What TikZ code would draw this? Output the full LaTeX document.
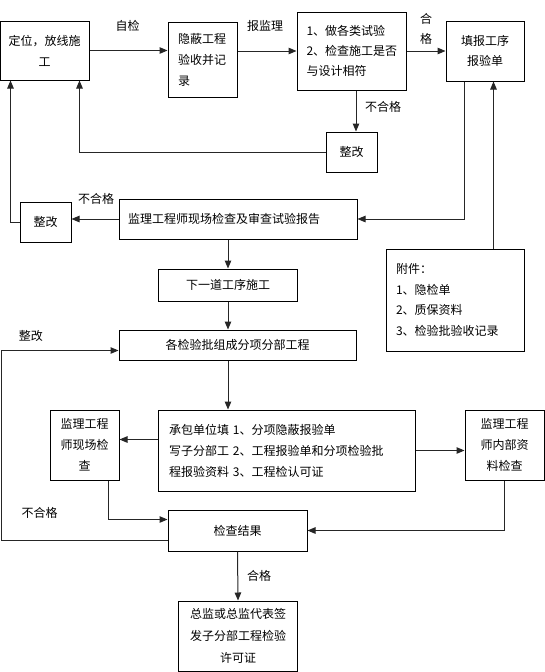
\documentclass[tikz,border=0pt]{standalone}
\usepackage{fontspec}
\newfontfamily\cjk{Noto Sans CJK SC}
\usetikzlibrary{arrows.meta,calc}
\tikzset{
  every node/.style={font=\cjk\fontsize{12}{21}\selectfont},
  box/.style={draw=black, line width=1pt, inner sep=0pt, align=center},
  conn/.style={draw=black!85, line width=1pt, -{Triangle[length=8pt,width=6.5pt]}},
  plain/.style={draw=black!85, line width=1pt},
  lbl/.style={inner sep=0pt, align=center}
}
\begin{document}
\begin{tikzpicture}[x=1pt,y=-1pt]
\useasboundingbox (0,0) rectangle (545,672);
% boxes
\node[box, minimum width=88.5, minimum height=59] (A) at (44.75,50.5) {定位，放线施\\工};
\node[box, minimum width=69, minimum height=75, text width=49, align=left] (B) at (202.5,59.5) {隐蔽工程\\验收并记\\录};
\node[box, minimum width=109, minimum height=78, text width=90, align=left, font=\cjk\fontsize{12}{20}\selectfont] (C) at (351.5,51) {1、做各类试验\\2、检查施工是否\\与设计相符};
\node[box, minimum width=78, minimum height=60, font=\cjk\fontsize{12}{20}\selectfont] (D) at (485,51) {填报工序\\报验单};
\node[box, minimum width=51, minimum height=40] (E) at (351.5,152) {整改};
\node[box, minimum width=238, minimum height=40, text width=220, align=left] (F) at (238,219) {监理工程师现场检查及审查试验报告};
\node[box, minimum width=51, minimum height=40] (G) at (45.5,222) {整改};
\node[box, minimum width=138, minimum height=102, text width=118, align=left, font=\cjk\fontsize{12}{20.5}\selectfont] (H) at (455,300) {附件：\\1、隐检单\\2、质保资料\\3、检验批验收记录};
\node[box, minimum width=139, minimum height=32] (I) at (228,285) {下一道工序施工};
\node[box, minimum width=237, minimum height=30] (J) at (237.5,345) {各检验批组成分项分部工程};
\node[box, minimum width=256.5, minimum height=81, text width=235.5, align=left] (K) at (286.75,450.5) {承包单位填 1、分项隐蔽报验单\\写子分部工 2、工程报验单和分项检验批\\程报验资料 3、工程检认可证};
\node[box, minimum width=69, minimum height=70] (L) at (84.5,445) {监理工程\\师现场检\\查};
\node[box, minimum width=79, minimum height=70] (M) at (504.5,445) {监理工程\\师内部资\\料检查};
\node[box, minimum width=139, minimum height=41] (N) at (237.5,530.5) {检查结果};
\node[box, minimum width=119, minimum height=70, font=\cjk\fontsize{12}{22}\selectfont] (O) at (238,636) {总监或总监代表签\\发子分部工程检验\\许可证};
% labels
\node[lbl] (l1) at (127.5,26) {自检};
\node[lbl] (l2) at (265,26) {报监理};
\node[lbl, font=\cjk\fontsize{12}{20}\selectfont] (l3) at (426,29) {合\\格};
\node[lbl] (l4) at (383,107) {不合格};
\node[lbl] (l5) at (96,199) {不合格};
\node[lbl] (l6) at (31,336) {整改};
\node[lbl] (l7) at (39.5,513) {不合格};
\node[lbl] (l8) at (259,576) {合格};
% helper coordinates
\coordinate (ce) at ($(C.south)+(4.5,0)$);
\coordinate (ea) at ($(A.south east)+(-10,0)$);
\coordinate (df) at ($(D.south west)+(19,0)$);
\coordinate (ga) at ($(A.south west)+(10.5,0)$);
\coordinate (hd) at ($(H.north west)+(108,0)$);
\coordinate (kl) at ($(K.north west)+(0,30)$);
\coordinate (lb) at ($(L.south west)+(59,0)$);
\coordinate (nl) at ($(N.north west)+(0,10)$);
\coordinate (nb) at ($(N.south west)+(0,-11)$);
\coordinate (jl) at ($(J.south west)+(0,-10)$);
\coordinate (lx) at (1.5,0);
% connectors
\draw[conn] (A.east) -- (A.east -| B.west);
\draw[conn] (B.east |- C.west) -- (C.west);
\draw[conn] (C.east) -- (D.west);
\draw[conn] (ce) -- (ce |- E.north);
\draw[conn] (E.west) -| (ea);
\draw[conn] (df) |- (F.east);
\draw[conn] (F.west) -- (F.west -| G.east);
\draw[conn] (G.west) -| (ga);
\draw[conn] (hd) -- (hd |- D.south);
\draw[conn] (I.north |- F.south) -- (I.north);
\draw[conn] (I.south) -- (I.south |- J.north);
\draw[conn] (I.south |- J.south) -- (I.south |- K.north);
\draw[conn] (kl) -- (kl -| L.east);
\draw[conn] (K.east) -- (K.east -| M.west);
\draw[conn] (lb) |- (nl);
\draw[conn] (M.south) |- (N.east);
\draw[conn] (nb) -| (lx |- jl) -- (jl);
\draw[conn] (N.south) -- (O.north);
\end{tikzpicture}
\end{document}
